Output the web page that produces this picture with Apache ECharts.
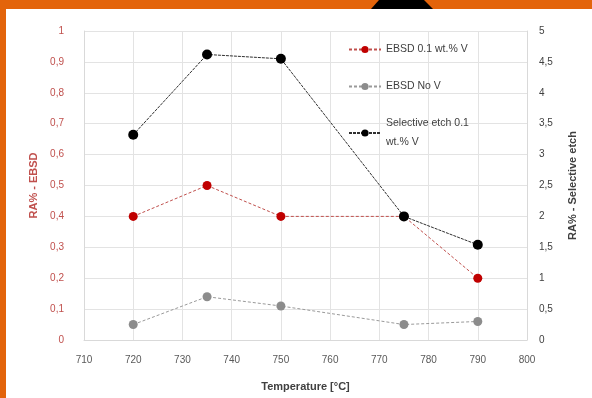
<!DOCTYPE html>
<html><head><meta charset="utf-8">
<script src="https://cdn.jsdelivr.net/npm/echarts@6/dist/echarts.min.js"></script>
<style>html,body{margin:0;padding:0;background:#fff}#c{width:592px;height:398px}</style>
</head><body><div id="c"></div>
<script>
const temperatures = [720, 735, 750, 775, 790];
const ebsdV = [0.40, 0.50, 0.40, 0.40, 0.20];
const ebsdNoV = [0.05, 0.14, 0.11, 0.05, 0.06];
const selectiveEtch = [3.32, 4.62, 4.55, 2.00, 1.54];
const seriesNames = ['EBSD 0.1 wt.% V', 'EBSD No V', 'Selective etch 0.1\nwt.% V'];
const xTitle = 'Temperature [°C]';
const leftTitle = 'RA% - EBSD';
const rightTitle = 'RA% - Selective etch';

const pair = (xs, ys) => xs.map((x, i) => [x, ys[i]]);
const comma = v => String(+v.toFixed(2)).replace('.', ',');
const font = '"Liberation Sans", Arial, sans-serif';

const chart = echarts.init(document.getElementById('c'), null, {renderer: 'canvas'});
chart.setOption({
  animation: false,
  backgroundColor: '#fff',
  textStyle: {fontFamily: font},
  grid: {left: 84, right: 65, top: 31, bottom: 58},
  graphic: [
    {type: 'rect', shape: {x: 0, y: 0, width: 592, height: 9}, style: {fill: '#e3640b'}, z: 100},
    {type: 'rect', shape: {x: 0, y: 0, width: 6, height: 398}, style: {fill: '#e3640b'}, z: 100},
    {type: 'polygon', shape: {points: [[371, 9], [379, 0], [424, 0], [433, 9]]}, style: {fill: '#000'}, z: 101}
  ],
  legend: {
    orient: 'vertical', left: 343, top: 35, itemWidth: 32, itemHeight: 9, itemGap: 18,
    textStyle: {fontSize: 10.5, color: '#404040', lineHeight: 19, fontFamily: font},
    data: seriesNames
  },
  xAxis: {
    type: 'value', min: 710, max: 800, interval: 10,
    name: xTitle, nameLocation: 'middle', nameGap: 41,
    nameTextStyle: {fontSize: 11, color: '#404040', fontWeight: 'bold'},
    axisLine: {show: true, lineStyle: {color: '#d9d9d9'}},
    axisTick: {show: false},
    axisLabel: {fontSize: 10, color: '#595959', margin: 15},
    splitLine: {show: true, lineStyle: {color: '#e3e3e3'}}
  },
  yAxis: [
    {
      type: 'value', min: 0, max: 1, interval: 0.1,
      name: leftTitle, nameLocation: 'middle', nameGap: 42, nameRotate: 90,
      nameTextStyle: {fontSize: 11, color: '#c0504d', fontWeight: 'bold'},
      axisLine: {show: true, lineStyle: {color: '#d9d9d9'}},
      axisTick: {show: false},
      axisLabel: {fontSize: 10, color: '#c0504d', margin: 20, formatter: comma},
      splitLine: {show: true, lineStyle: {color: '#e3e3e3'}}
    },
    {
      type: 'value', min: 0, max: 5, interval: 0.5, position: 'right',
      name: rightTitle, nameLocation: 'middle', nameGap: 40, nameRotate: 90,
      nameTextStyle: {fontSize: 11, color: '#404040', fontWeight: 'bold'},
      axisLine: {show: true, lineStyle: {color: '#d9d9d9'}},
      axisTick: {show: false},
      axisLabel: {fontSize: 10, color: '#404040', margin: 12, formatter: comma},
      splitLine: {show: false}
    }
  ],
  series: [
    {
      name: seriesNames[0], type: 'line', yAxisIndex: 0, data: pair(temperatures, ebsdV),
      symbol: 'circle', symbolSize: 9,
      itemStyle: {color: '#c00000'},
      lineStyle: {color: '#c0504d', width: 1, type: [3, 2]}
    },
    {
      name: seriesNames[1], type: 'line', yAxisIndex: 0, data: pair(temperatures, ebsdNoV),
      symbol: 'circle', symbolSize: 9,
      itemStyle: {color: '#8c8c8c'},
      lineStyle: {color: '#9a9a9a', width: 1, type: [3, 2]}
    },
    {
      name: seriesNames[2], type: 'line', yAxisIndex: 1, data: pair(temperatures, selectiveEtch),
      symbol: 'circle', symbolSize: 10,
      itemStyle: {color: '#000'},
      lineStyle: {color: '#303030', width: 1, type: [3, 1]}
    }
  ]
});
</script></body></html>
